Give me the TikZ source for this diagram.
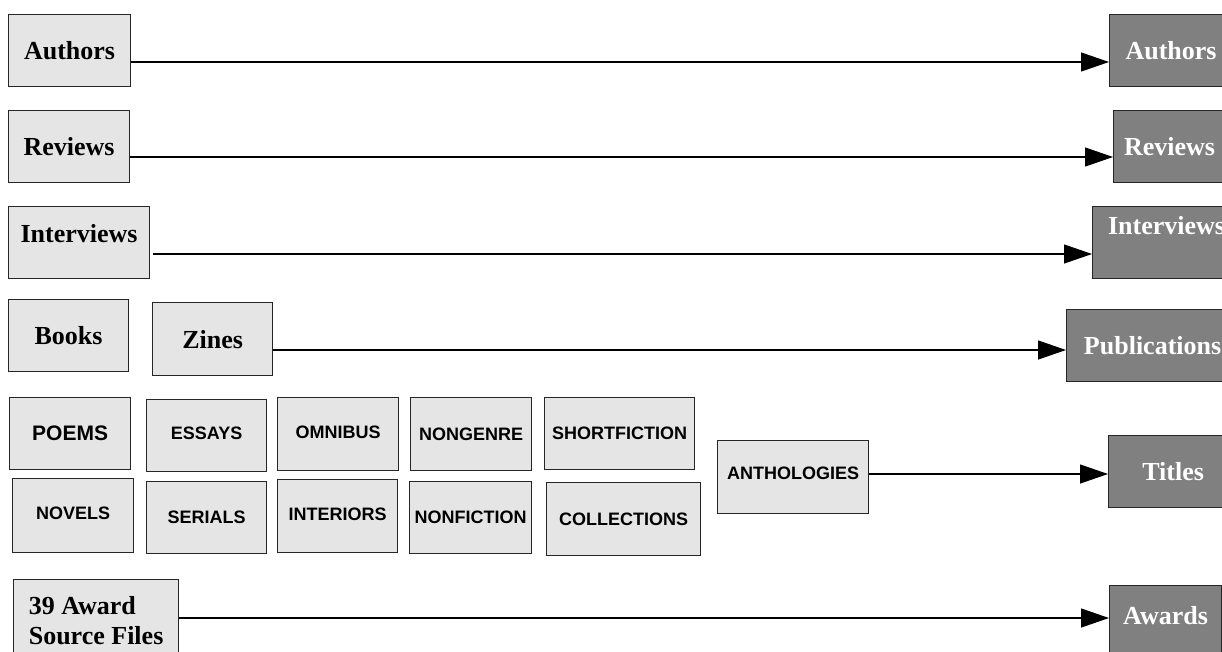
\documentclass[tikz,border=0pt]{standalone}
\usepackage{fontspec}
\setmainfont{Liberation Serif}
\newfontfamily\genrefont{Liberation Sans}
\usetikzlibrary{arrows.meta}

\tikzset{
	src/.style = {draw = black!85, line width = 1.2pt, fill = black!10, inner sep = 0pt, anchor = north west, font = \bfseries\fontsize{26}{30}\selectfont},
	db/.style = {src, fill = black!50, text = white},
	genre/.style = {src, font = \genrefont\bfseries\fontsize{18}{20}\selectfont},
	feed/.style = {-{Triangle[length = 28pt, width = 19pt]}, line width = 1.2pt}
}

\begin{document}
\begin{tikzpicture}[x = 1pt, y = -1pt]
		\def\W{1222};
		\def\H{651};
		\def\h{72};
		
		\useasboundingbox (0,0) rectangle (\W,\H);
		\clip (0,0) rectangle (\W,\H);
		
		\coordinate (authors row) at (0,62);
		\coordinate (reviews row) at (0,157);
		\coordinate (interviews row) at (0,254);
		\coordinate (publications row) at (0,350);
		\coordinate (titles row) at (0,474);
		\coordinate (awards row) at (0,618);
		
		%sources
		\node [src, minimum width = 122, minimum height = \h] (authors src) at (8,14) {Authors};
		\node [src, minimum width = 121, minimum height = \h] (reviews src) at (8,110) {Reviews};
		\node [src, minimum width = 141, minimum height = \h, text depth = 18pt] (interviews src) at (8,206) {Interviews};
		\node [src, minimum width = 120, minimum height = \h] (books src) at (8,299) {Books};
		\node [src, minimum width = 120, minimum height = 73] (zines src) at (152,302) {Zines};
		\node [src, minimum width = 165, minimum height = 82, align = left, xshift = 3] (awards src) at (10,579) {39 Award\\Source Files};
		
		\node [genre, minimum width = 121, minimum height = \h, font = \genrefont\bfseries\fontsize{21}{24}\selectfont] (poems) at (9,397) {POEMS};
		\node [genre, minimum width = 120, minimum height = \h, text depth = 4pt] (essays) at (146,399) {ESSAYS};
		\node [genre, minimum width = 121, minimum height = 73, text depth = 4pt] (omnibus) at (277,397) {OMNIBUS};
		\node [genre, minimum width = 121, minimum height = 73] (nongenre) at (410,397) {NONGENRE};
		\node [genre, minimum width = 150, minimum height = \h] (shortfiction) at (544,397) {SHORTFICTION};
		\node [genre, minimum width = 121, minimum height = 74, text depth = 4pt] (novels) at (12,478) {NOVELS};
		\node [genre, minimum width = 120, minimum height = \h] (serials) at (146,481) {SERIALS};
		\node [genre, minimum width = 120, minimum height = 73, text depth = 4pt] (interiors) at (277,479) {INTERIORS};
		\node [genre, minimum width = 122, minimum height = \h] (nonfiction) at (409,481) {NONFICTION};
		\node [genre, minimum width = 154, minimum height = 73] (collections) at (546,482) {COLLECTIONS};
		\node [genre, minimum width = 151, minimum height = 73, text depth = 8pt] (anthologies) at (717,440) {ANTHOLOGIES};
		
		%tables
		\node [db, minimum width = 123, minimum height = \h] (authors db) at (1109,14) {Authors};
		\node [db, minimum width = 112, minimum height = \h] (reviews db) at (1113,110) {Reviews};
		\node [db, minimum width = 148, minimum height = \h, text depth = 34pt] (interviews db) at (1092,206) {Interviews};
		\node [db, minimum width = 172, minimum height = \h] (publications db) at (1066,309) {Publications};
		\node [db, minimum width = 129, minimum height = \h] (titles db) at (1108,435) {Titles};
		\node [db, minimum width = 112, minimum height = 75, text depth = 16pt] (awards db) at (1109,585) {Awards};
		
		%arrows
		\draw [feed] (authors src.east |- authors row) -- (authors db.west |- authors row);
		\draw [feed] (reviews src.east |- reviews row) -- (reviews db.west |- reviews row);
		\draw [feed, shorten < = 3pt] (interviews src.east |- interviews row) -- (interviews db.west |- interviews row);
		\draw [feed] (zines src.east |- publications row) -- (publications db.west |- publications row);
		\draw [feed] (anthologies.east |- titles row) -- (titles db.west |- titles row);
		\draw [feed] (awards src.east |- awards row) -- (awards db.west |- awards row);
	\end{tikzpicture}
\end{document}
